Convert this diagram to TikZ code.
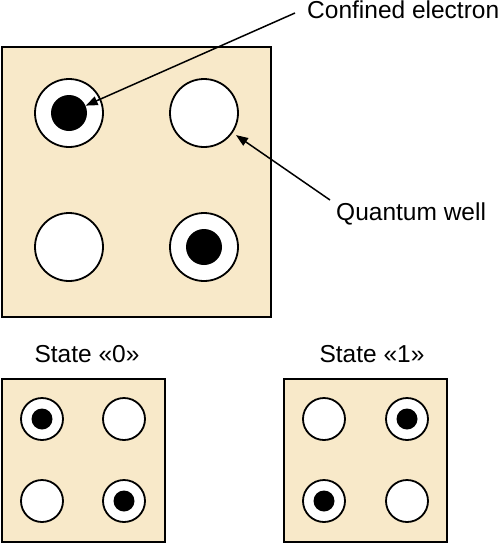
\documentclass[tikz,border=0pt]{standalone}
\usepackage{fontspec}
\setmainfont{Liberation Sans}
\usetikzlibrary{arrows.meta}
\definecolor{chip}{RGB}{248,233,201}
\begin{document}
\begin{tikzpicture}[x=1pt,y=-1pt,
  chipbox/.style={draw=black,line width=1.8pt,fill=chip},
  bigwell/.style={circle,draw=black,line width=1.8pt,fill=white,minimum size=68pt,inner sep=0pt},
  bigdot/.style={circle,fill=black,minimum size=36pt,inner sep=0pt},
  smallwell/.style={circle,draw=black,line width=1.8pt,fill=white,minimum size=42pt,inner sep=0pt},
  smalldot/.style={circle,fill=black,minimum size=21pt,inner sep=0pt},
  lbl/.style={font=\fontsize{24.5}{28}\selectfont,inner sep=0pt},
  pointer/.style={line width=1.5pt,-{Triangle[length=12pt,width=9pt]}}]
\useasboundingbox (0,0) rectangle (500,544);
% main chip
\draw[chipbox] (2,47) rectangle (271,317);
\node[bigwell] (w1) at (69,113) {};
\node[bigwell] (w2) at (204,113) {};
\node[bigwell] (w3) at (69,247) {};
\node[bigwell] (w4) at (204,247) {};
\node[bigdot] (e1) at (69,113) {};
\node[bigdot] (e4) at (204,247) {};
% labels
\node[lbl,anchor=base west] (ce) at (307,18) {Confined electron};
\node[lbl,anchor=base west] (qw) at (336,220) {Quantum well};
\coordinate (ces) at (295,13);
\coordinate (qws) at (330,200);
\draw[pointer] (ces) -- (e1);
\draw[pointer,shorten >=4pt] (qws) -- (w2);
% state 0
\node[lbl,anchor=base] (s0) at (87,362) {State «0»};
\draw[chipbox] (2,379) rectangle (165,542);
\node[smallwell] (a1) at (42,419) {};
\node[smallwell] (a2) at (124,419) {};
\node[smallwell] (a3) at (42,501) {};
\node[smallwell] (a4) at (124,501) {};
\node[smalldot] (ad1) at (42,419) {};
\node[smalldot] (ad4) at (124,501) {};
% state 1
\node[lbl,anchor=base] (s1) at (372,362) {State «1»};
\draw[chipbox] (284,379) rectangle (447,542);
\node[smallwell] (b1) at (324,419) {};
\node[smallwell] (b2) at (407,419) {};
\node[smallwell] (b3) at (324,501) {};
\node[smallwell] (b4) at (407,501) {};
\node[smalldot] (bd2) at (407,419) {};
\node[smalldot] (bd3) at (324,501) {};
\end{tikzpicture}
\end{document}
